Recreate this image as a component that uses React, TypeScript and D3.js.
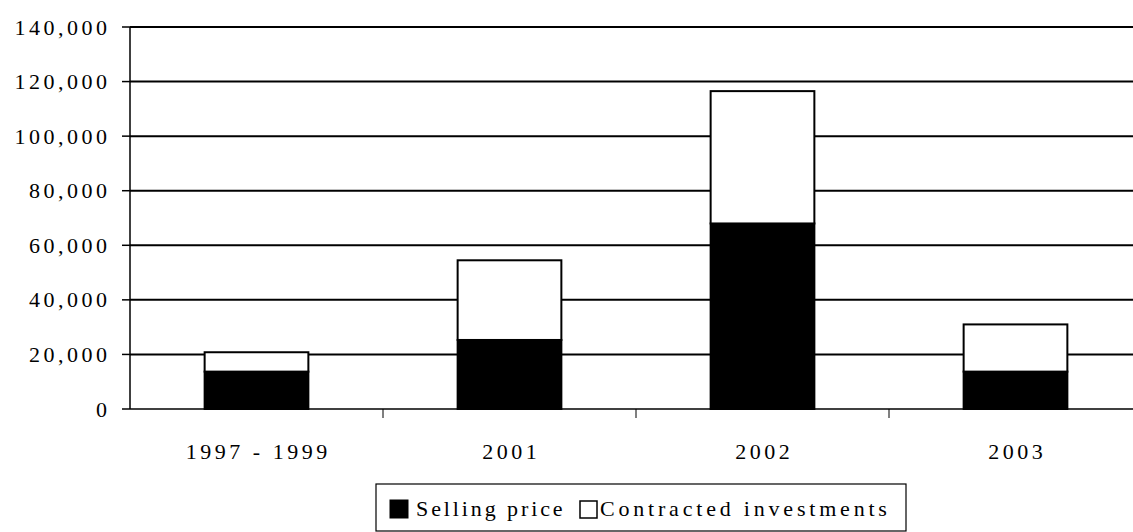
import React from "react";
import * as d3 from "d3";

const categories: string[] = ["1997 - 1999", "2001", "2002", "2003"];
const sellingPrice: number[] = [13700, 25300, 68000, 13700];
const contractedInvestments: number[] = [7100, 29200, 48500, 17300];
const yTicks: number[] = [0, 20000, 40000, 60000, 80000, 100000, 120000, 140000];
const seriesNames: string[] = ["Selling price", "Contracted investments"];

const W = 1133;
const H = 532;
const FONT = "Liberation Serif";
const FS = 22;
const LS = 3.5;

export default function App() {
  const left = 130;
  const right = 1142;
  const top = 27;
  const bottom = 409;

  const x = d3.scaleBand<string>().domain(categories).range([left, right]).paddingInner(0).paddingOuter(0);
  const y = d3.scaleLinear().domain([0, 140000]).range([bottom, top]);
  const barW = x.bandwidth() * 0.41;
  const fmt = d3.format(",");

  const stackData = categories.map((c, i) => ({ cat: c, s: sellingPrice[i], c2: contractedInvestments[i] }));
  const stack = d3.stack<any>().keys(["s", "c2"])(stackData);

  return (
    <svg width={W} height={H} style={{ position: "absolute", left: 0, top: 0, background: "#fff" }}>
      <rect x={0} y={0} width={W} height={H} fill="#fff" />
      {yTicks.filter((t) => t > 0).map((t) => (
        <line key={"g" + t} x1={left} x2={right} y1={y(t)} y2={y(t)} stroke="#000" strokeWidth={2} />
      ))}
      {stack.map((layer, li) =>
        layer.map((d, i) => {
          const cx = (x(categories[i]) as number) + x.bandwidth() / 2;
          const y0 = y(d[0]);
          const y1 = y(d[1]);
          return (
            <rect
              key={li + "-" + i}
              x={cx - barW / 2}
              y={y1}
              width={barW}
              height={y0 - y1}
              fill={li === 0 ? "#000" : "#fff"}
              stroke="#000"
              strokeWidth={2}
            />
          );
        })
      )}
      <line x1={left} x2={left} y1={top} y2={bottom} stroke="#000" strokeWidth={1.5} />
      {yTicks.map((t) => (
        <g key={"yt" + t}>
          <line x1={left - 8} x2={left} y1={y(t)} y2={y(t)} stroke="#000" strokeWidth={1.5} />
          <text
            x={107 + LS}
            y={y(t) + 7.5}
            textAnchor="end"
            fontFamily={FONT}
            fontSize={FS}
            letterSpacing={LS}
            fill="#000"
          >
            {fmt(t)}
          </text>
        </g>
      ))}
      <line x1={left} x2={right} y1={bottom} y2={bottom} stroke="#000" strokeWidth={1.5} />
      {categories.map((c, i) => (
        <line
          key={"xt" + i}
          x1={(x(c) as number) + x.bandwidth()}
          x2={(x(c) as number) + x.bandwidth()}
          y1={bottom}
          y2={bottom + 9}
          stroke="#000"
          strokeWidth={1}
        />
      ))}
      {categories.map((c) => (
        <text
          key={"xl" + c}
          x={(x(c) as number) + x.bandwidth() / 2 + LS / 2}
          y={459}
          textAnchor="middle"
          fontFamily={FONT}
          fontSize={FS}
          letterSpacing={LS}
          fill="#000"
        >
          {c}
        </text>
      ))}
      <rect x={376} y={484} width={530} height={47} fill="#fff" stroke="#000" strokeWidth={1.2} />
      <rect x={390} y={500} width={18} height={18} fill="#000" stroke="#000" strokeWidth={1} />
      <text x={416} y={515.5} fontFamily={FONT} fontSize={FS} letterSpacing={2.9} fill="#000">
        {seriesNames[0]}
      </text>
      <rect x={580} y={501} width={17} height={17} fill="#fff" stroke="#000" strokeWidth={1.5} />
      <text x={600} y={515.5} fontFamily={FONT} fontSize={FS} letterSpacing={3.8} fill="#000">
        {seriesNames[1]}
      </text>
    </svg>
  );
}
